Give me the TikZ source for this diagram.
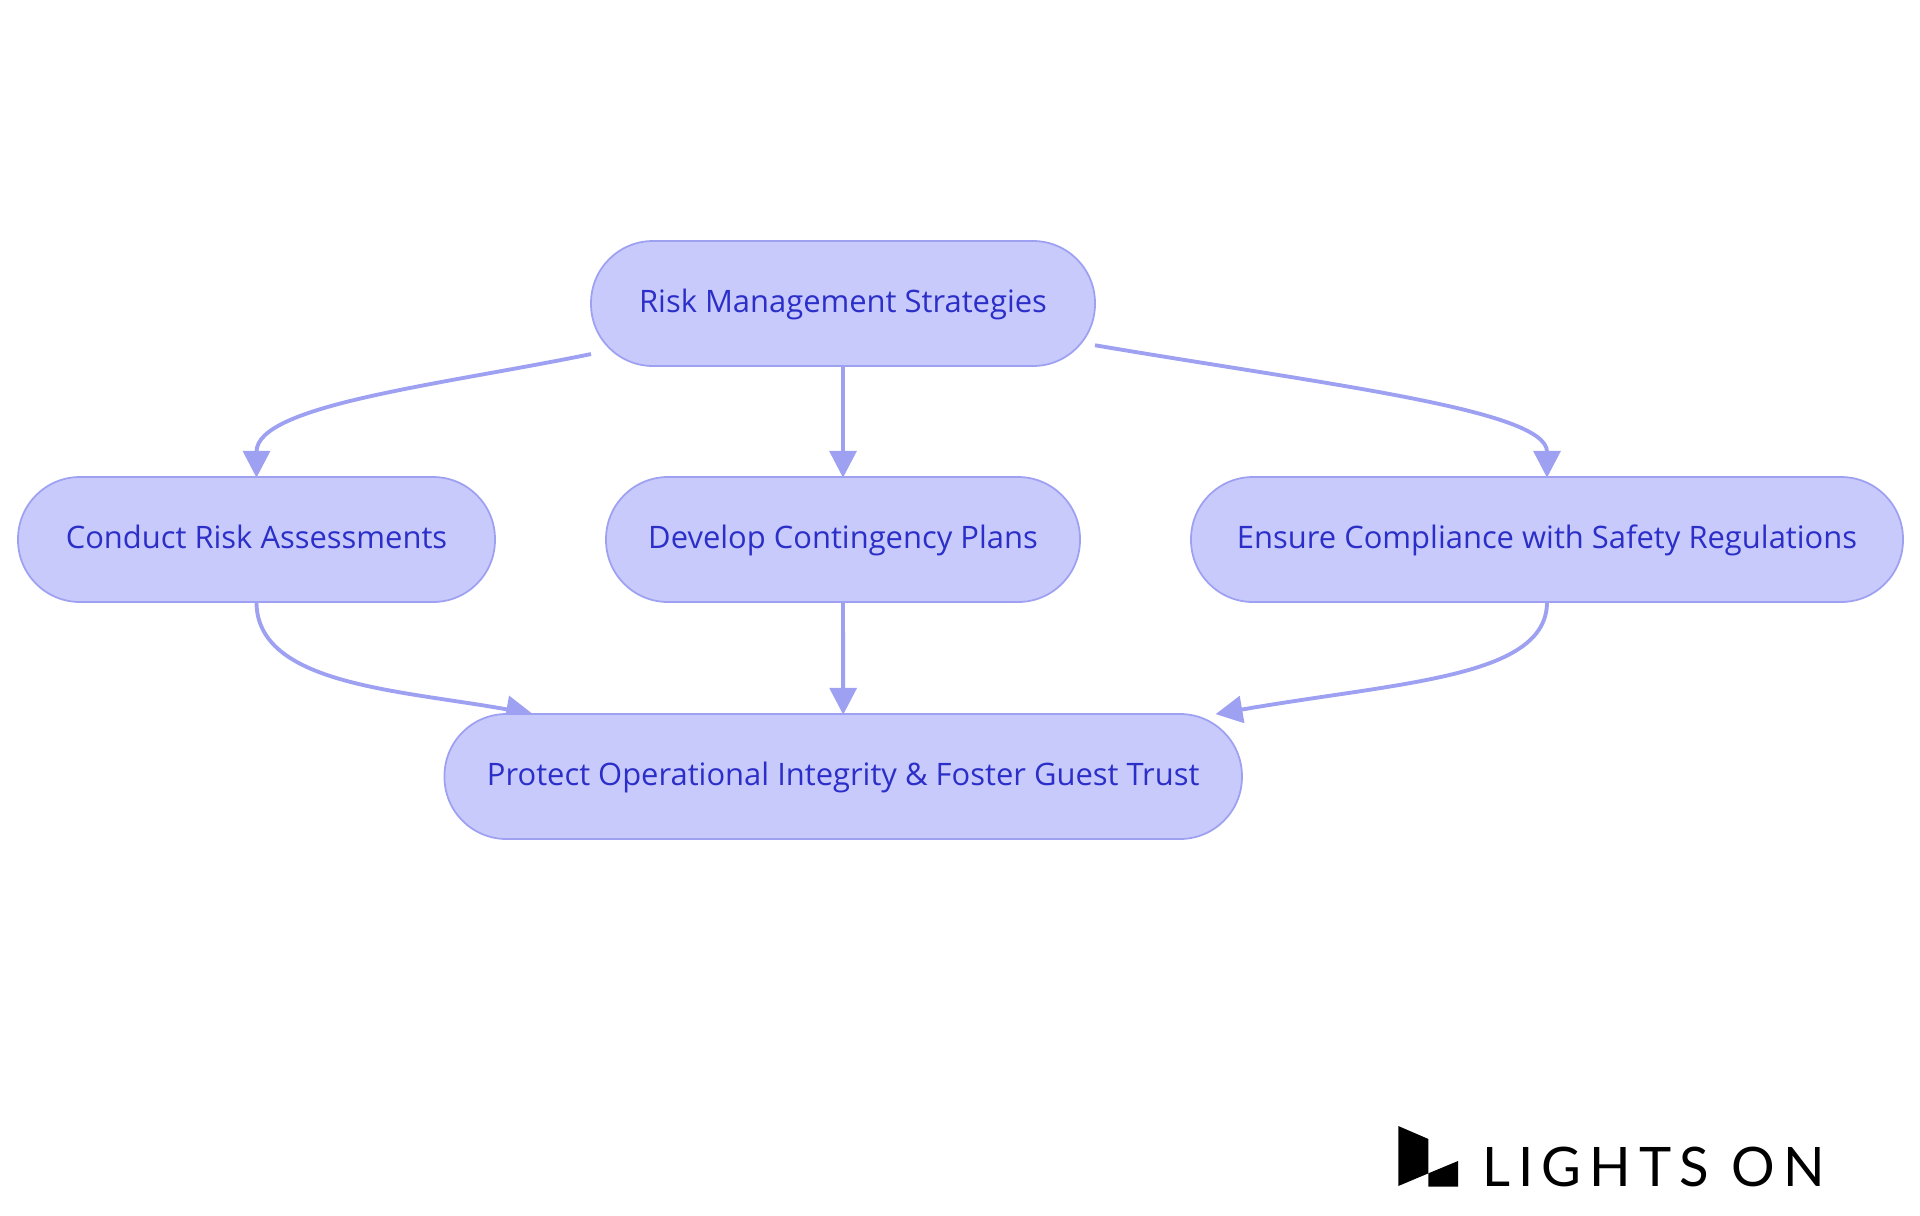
\documentclass[tikz,border=0pt]{standalone}
\usepackage{fontspec}
\setmainfont{Open Sans}
\newfontfamily\logofont[LetterSpace=15]{Lato}
\usetikzlibrary{arrows.meta}
\definecolor{boxfill}{HTML}{C8CAFC}
\definecolor{boxline}{HTML}{9EA1F2}
\definecolor{boxtext}{HTML}{2B2FC8}
\pgfdeclarelayer{nodelayer}
\pgfdeclarelayer{edgelayer}
\pgfsetlayers{edgelayer,nodelayer,main}
\tikzset{box/.style={draw=boxline, fill=boxfill, text=boxtext, line width=1pt, rounded corners=1.24cm,
inner sep=0pt, outer sep=0pt, minimum height=2.5cm, text height=2.46ex, text depth=.6ex,
font=\fontsize{17.6}{20}\selectfont, anchor=center}}
\tikzset{arr/.style={draw=boxline, line width=2.2pt, shorten >=-.4pt, -{Triangle[length=15.3pt,width=15.3pt]}}}
\begin{document}
\begin{tikzpicture}[scale=2]
        \useasboundingbox (0,0) rectangle (19.2,-12.15);
        \begin{pgfonlayer}{nodelayer}
            \node [style=box, minimum width=10.08cm] (0) at (8.43, -3.035) {Risk Management Strategies};
            \node [style=box, minimum width=9.54cm] (1) at (2.565, -5.395) {Conduct Risk Assessments};
            \node [style=box, minimum width=9.48cm] (2) at (8.43, -5.395) {Develop Contingency Plans};
            \node [style=box, minimum width=14.24cm] (3) at (15.47, -5.395) {Ensure Compliance with Safety Regulations};
            \node [style=box, minimum width=15.95cm] (4) at (8.432, -7.765) {Protect Operational Integrity \& Foster Guest Trust};
            \node [anchor=west, inner sep=0pt, text=black, font=\logofont\fontsize{31}{36}\selectfont] (5) at (14.82, -11.67) {LIGHTS ON};
        \end{pgfonlayer}
        \begin{pgfonlayer}{edgelayer}
            \draw [style=arr] ([yshift=3.4pt]0.south west) .. controls (4.40, -3.85) and (2.565, -4.05) .. (1.north);
            \draw [style=arr] (0.south) to (2.north);
            \draw [style=arr] ([yshift=5.9pt]0.south east) .. controls (13.30, -3.85) and (15.47, -4.10) .. (3.north);
            \draw [style=arr] (1.south) .. controls (2.565, -6.85) and (4.00, -6.90) .. ([xshift=25pt]4.north west);
            \draw [style=arr] (2.south) to (4.north);
            \draw [style=arr] (3.south) .. controls (15.47, -6.78) and (14.00, -6.82) .. ([xshift=-7.3pt]4.north east);
        \end{pgfonlayer}
        \fill [black] (13.983, -11.26) -- (14.284, -11.39) -- (14.284, -11.733) -- (13.983, -11.86) -- cycle;
        \fill [black] (14.284, -11.733) -- (14.58, -11.61) -- (14.58, -11.867) -- (14.284, -11.867) -- cycle;
\end{tikzpicture}
\end{document}
